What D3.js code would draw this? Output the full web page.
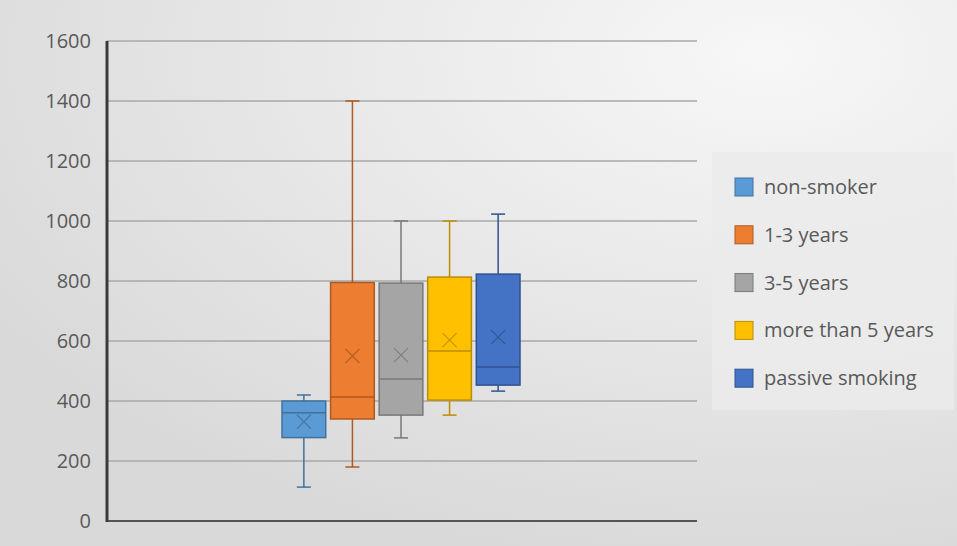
<!DOCTYPE html>
<html>
<head>
<meta charset="utf-8">
<script src="https://cdn.jsdelivr.net/npm/d3@7"></script>
<style>
  body { margin: 0; }
  svg { display: block; font-family: "Open Sans", "Noto Sans", sans-serif; }
</style>
</head>
<body>
<div id="chart"></div>
<script>
// Data
const series = ['non-smoker', '1-3 years', '3-5 years', 'more than 5 years', 'passive smoking'];
const mins    = [113, 180, 277, 353, 433];
const q1s     = [278, 340, 353, 403, 453];
const medians = [361, 413, 473, 567, 513];
const q3s     = [400, 795, 793, 813, 823];
const maxs    = [420, 1400, 1000, 1000, 1023];
const means   = [331, 550, 553, 603, 613];
const yTicks  = [0, 200, 400, 600, 800, 1000, 1200, 1400, 1600];

const fills   = ['#5B9BD5', '#ED7D31', '#A5A5A5', '#FFC000', '#4472C4'];
const strokes = ['#41719C', '#AE5A21', '#787878', '#BC8C00', '#2F528F'];

const W = 957, H = 546;
const svg = d3.select('#chart').append('svg').attr('width', W).attr('height', H);

// background gradient
const defs = svg.append('defs');
const bg = defs.append('radialGradient').attr('id', 'bg')
  .attr('cx', '80%').attr('cy', '10%').attr('r', '95%');
bg.append('stop').attr('offset', '0%').attr('stop-color', '#f7f7f7');
bg.append('stop').attr('offset', '100%').attr('stop-color', '#d9d9d9');
svg.append('rect').attr('width', W).attr('height', H).attr('fill', 'url(#bg)');

const plot = { left: 107, right: 697, top: 41, bottom: 521 };

const y = d3.scaleLinear().domain([0, 1600]).range([plot.bottom, plot.top]);
const x = d3.scaleBand().domain(series).range([282, 520]).paddingInner(0.1);

// gridlines
svg.append('g').selectAll('line').data(yTicks.filter(d => d > 0)).enter().append('line')
  .attr('x1', plot.left).attr('x2', plot.right)
  .attr('y1', d => y(d)).attr('y2', d => y(d))
  .attr('stroke', '#a8a8a8').attr('stroke-width', 1.3);

// axes
const yAxis = svg.append('g').attr('transform', `translate(${plot.left},0)`)
  .call(d3.axisLeft(y).tickValues(yTicks).tickFormat(d3.format('d')).tickSize(0).tickPadding(16));
yAxis.select('.domain').remove();
yAxis.selectAll('text').attr('font-size', 20).attr('fill', '#595959')
  .attr('font-family', '"Open Sans", sans-serif');

svg.append('line').attr('x1', plot.left).attr('x2', plot.right)
  .attr('y1', plot.bottom).attr('y2', plot.bottom)
  .attr('stroke', '#555').attr('stroke-width', 2);
svg.append('line').attr('x1', plot.left).attr('x2', plot.left)
  .attr('y1', plot.top).attr('y2', plot.bottom + 1)
  .attr('stroke', '#3a3a3a').attr('stroke-width', 3);

// boxes
const boxes = series.map((s, i) => ({
  name: s, min: mins[i], q1: q1s[i], med: medians[i], q3: q3s[i], max: maxs[i], mean: means[i],
  fill: fills[i], stroke: strokes[i]
}));

const g = svg.append('g').selectAll('g').data(boxes).enter().append('g');
const bw = x.bandwidth();
const cap = 7;

g.append('line')
  .attr('x1', d => x(d.name) + bw / 2).attr('x2', d => x(d.name) + bw / 2)
  .attr('y1', d => y(d.max)).attr('y2', d => y(d.q3))
  .attr('stroke', d => d.stroke).attr('stroke-width', 1.5);
g.append('line')
  .attr('x1', d => x(d.name) + bw / 2).attr('x2', d => x(d.name) + bw / 2)
  .attr('y1', d => y(d.q1)).attr('y2', d => y(d.min))
  .attr('stroke', d => d.stroke).attr('stroke-width', 1.5);
g.append('line')
  .attr('x1', d => x(d.name) + bw / 2 - cap).attr('x2', d => x(d.name) + bw / 2 + cap)
  .attr('y1', d => y(d.max)).attr('y2', d => y(d.max))
  .attr('stroke', d => d.stroke).attr('stroke-width', 1.5);
g.append('line')
  .attr('x1', d => x(d.name) + bw / 2 - cap).attr('x2', d => x(d.name) + bw / 2 + cap)
  .attr('y1', d => y(d.min)).attr('y2', d => y(d.min))
  .attr('stroke', d => d.stroke).attr('stroke-width', 1.5);

g.append('rect')
  .attr('x', d => x(d.name)).attr('width', bw)
  .attr('y', d => y(d.q3)).attr('height', d => y(d.q1) - y(d.q3))
  .attr('fill', d => d.fill).attr('stroke', d => d.stroke).attr('stroke-width', 1.5);

g.append('line')
  .attr('x1', d => x(d.name)).attr('x2', d => x(d.name) + bw)
  .attr('y1', d => y(d.med)).attr('y2', d => y(d.med))
  .attr('stroke', d => d.stroke).attr('stroke-width', 1.5);

// mean markers
const m = 7;
g.append('path')
  .attr('d', d => {
    const cx = x(d.name) + bw / 2, cy = y(d.mean);
    return `M${cx - m},${cy - m}L${cx + m},${cy + m}M${cx - m},${cy + m}L${cx + m},${cy - m}`;
  })
  .attr('stroke', d => d.stroke).attr('stroke-width', 1.3).attr('fill', 'none').attr('opacity', 0.8);

// legend
const lg = svg.append('g');
lg.append('rect').attr('x', 712).attr('y', 152).attr('width', 242).attr('height', 258)
  .attr('fill', '#ebebeb').attr('opacity', 0.85);
const li = lg.selectAll('g').data(boxes).enter().append('g')
  .attr('transform', (d, i) => `translate(735,${187 + i * 47.8})`);
li.append('rect').attr('x', 0).attr('y', -9).attr('width', 18).attr('height', 18)
  .attr('fill', d => d.fill).attr('stroke', d => d.stroke).attr('stroke-width', 1);
li.append('text').attr('x', 29).attr('y', 0).attr('dy', '0.35em')
  .attr('font-size', 20).attr('fill', '#595959')
  .text(d => d.name);
</script>
</body>
</html>
